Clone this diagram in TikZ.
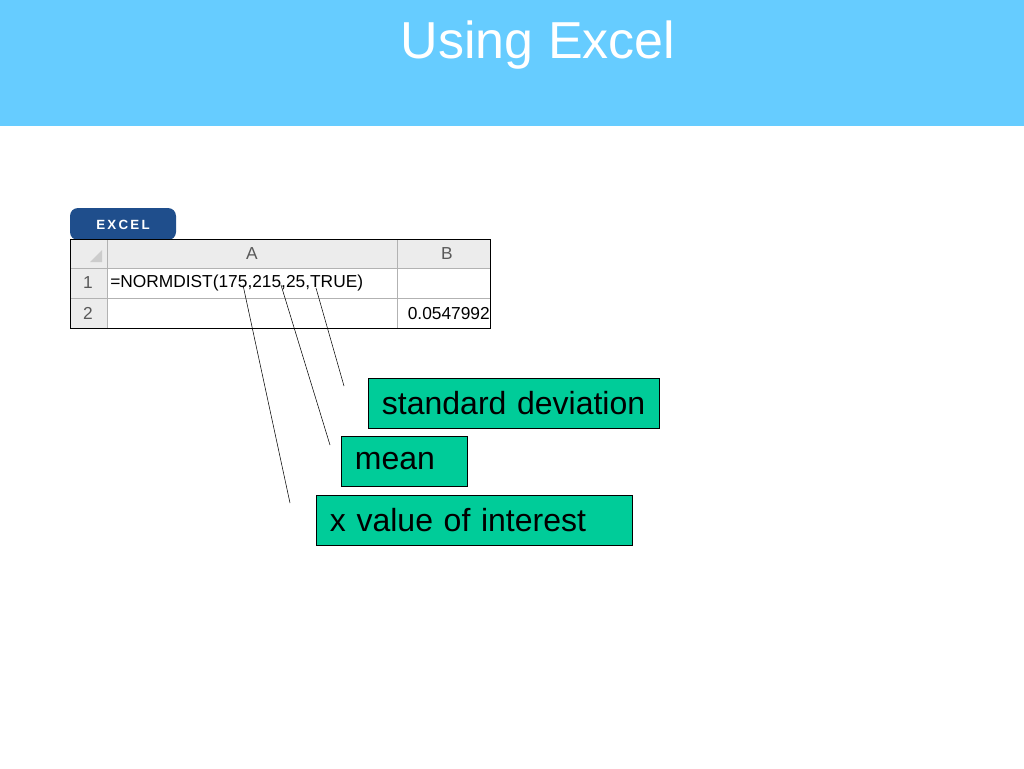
\documentclass[tikz,border=0pt]{standalone}
\usepackage{fontspec}
\setmainfont{Liberation Sans}
\tikzset{
  label box/.style={draw=black, fill=green!60!cyan!80!black!80, anchor=north west, inner sep=0pt, align=left, font=\fontsize{24}{28}\selectfont},
  cell/.style={draw=gray!70, anchor=north west, inner sep=0pt},
  cell text/.style={font=\fontsize{13}{15}\selectfont},
}
\definecolor{headblue}{HTML}{66CCFF}
\definecolor{tabblue}{HTML}{1F4E8C}
\definecolor{boxgreen}{HTML}{00CC99}
\begin{document}
\begin{tikzpicture}[x=0.75pt, y=-0.75pt]
\useasboundingbox (0,0) rectangle (1024,768);
\fill[headblue] (0,0) rectangle (1024,126);
\node[text=white, font=\fontsize{39}{44}\selectfont] (title) at (538,45) {Using Excel};
% excel tab
\fill[tabblue, rounded corners=6pt] (70,240) -- (70,208) -- (176,208) -- (176,240) -- cycle;
\node[text=white, font=\fontsize{10}{12}\bfseries] (tab) at (123,225) {E\,X\,C\,E\,L};
% table
\fill[gray!15] (70,239) rectangle (490,268);
\fill[gray!15] (70,268) rectangle (107,328);
\draw[gray!60] (107,239) -- (107,328) (397,239) -- (397,328) (70,268) -- (490,268) (70,298) -- (490,298);
\draw[black] (70,239) rectangle (490,328);
\fill[gray!40] (90,262) -- (102,250) -- (102,262) -- cycle;
\node[cell text, text=gray!70!black] (colA) at (252,254) {A};
\node[cell text, text=gray!70!black] (colB) at (447,254) {B};
\node[cell text, text=gray!70!black] (row1) at (88,283) {1};
\node[cell text, text=gray!70!black] (row2) at (88,313) {2};
\node[cell text, anchor=west, inner sep=0pt] (formula) at (110,283) {=NORMDIST(175,215,25,TRUE)};
\node[cell text, anchor=east, inner sep=0pt] (result) at (490,314) {0.0547992};
% labels
\node[draw=black, fill=boxgreen, anchor=north west, minimum width=291*0.75pt, minimum height=50*0.75pt, text width=285*0.75pt, inner sep=0pt, align=left, font=\fontsize{24}{28}\selectfont] (sd) at (368,378) {\hspace{8pt}standard deviation};
\node[draw=black, fill=boxgreen, anchor=north west, minimum width=126*0.75pt, minimum height=50*0.75pt, text width=120*0.75pt, inner sep=0pt, align=left, font=\fontsize{24}{28}\selectfont] (mean) at (341,436) {\hspace{8pt}mean};
\node[draw=black, fill=boxgreen, anchor=north west, minimum width=316*0.75pt, minimum height=50*0.75pt, text width=310*0.75pt, inner sep=0pt, align=left, font=\fontsize{24}{28}\selectfont] (xval) at (316,495) {\hspace{8pt}x value of interest};
\coordinate (sdend) at (344,386);
\coordinate (meanend) at (330,445);
\coordinate (xend) at (290,503);
\draw (316,288) -- (sdend);
\draw (281,285) -- (meanend);
\draw (243,285) -- (xend);
\end{tikzpicture}
\end{document}
